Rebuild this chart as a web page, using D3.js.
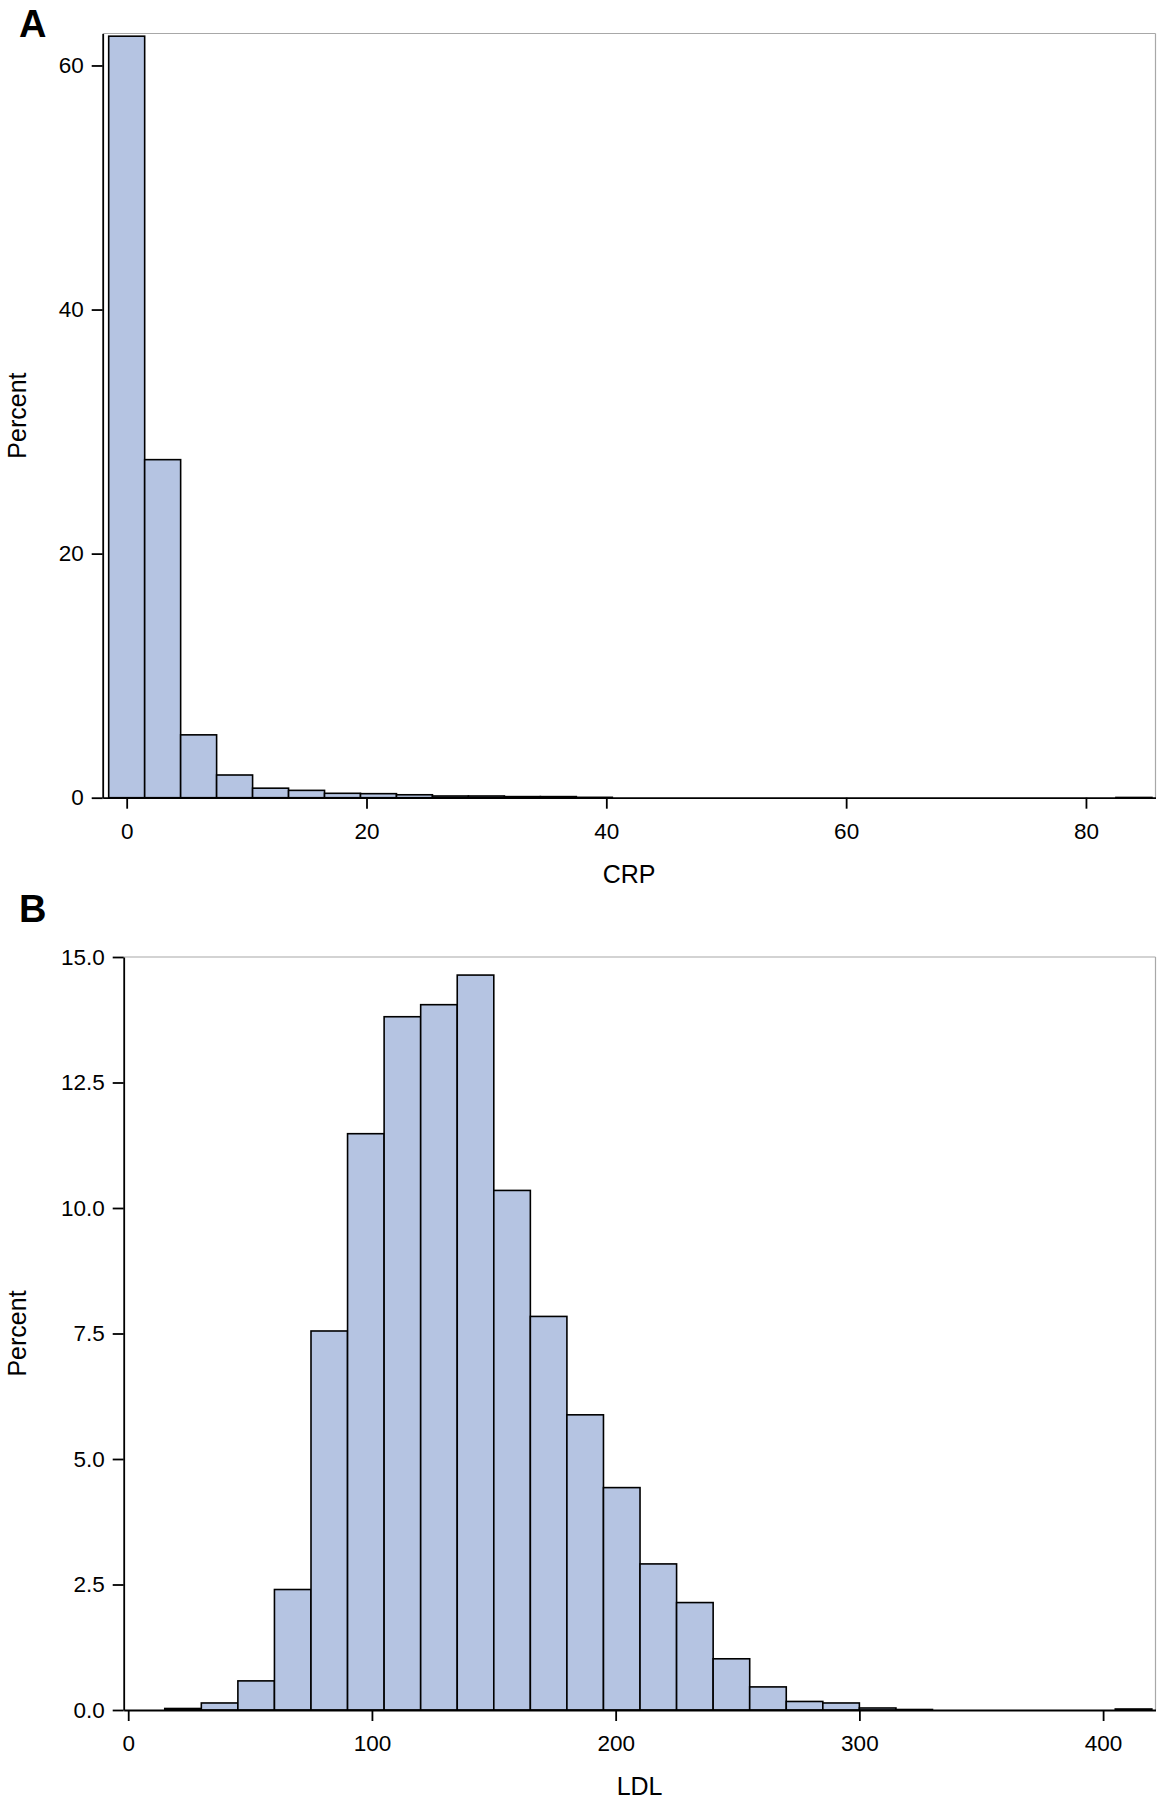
<!DOCTYPE html>
<html>
<head>
<meta charset="utf-8">
<script src="https://cdn.jsdelivr.net/npm/d3@7"></script>
<style>
  html, body { margin: 0; padding: 0; background: #fff; }
  svg { display: block; font-family: "Liberation Sans", Arial, Helvetica, sans-serif; }
</style>
</head>
<body>
<svg id="chart" width="1162" height="1800"></svg>
<script>
// ---- Data ----
const crpBinWidth = 3;
const crpMidpoints = [0, 3, 6, 9, 12, 15, 18, 21, 24, 27, 30, 33, 36, 39, 42, 45, 48, 51, 54, 57, 60, 63, 66, 69, 72, 75, 78, 81, 84];
const crpPercent   = [62.4, 27.7, 5.15, 1.86, 0.78, 0.6, 0.36, 0.33, 0.24, 0.14, 0.14, 0.09, 0.09, 0.03, 0, 0, 0, 0, 0, 0, 0, 0, 0, 0, 0, 0, 0, 0, 0.02];
const crpXTicks = [0, 20, 40, 60, 80];
const crpYTicks = [0, 20, 40, 60];

const ldlBinWidth = 15;
const ldlMidpoints = [22.5, 37.5, 52.5, 67.5, 82.5, 97.5, 112.5, 127.5, 142.5, 157.5, 172.5, 187.5, 202.5, 217.5, 232.5, 247.5, 262.5, 277.5, 292.5, 307.5, 322.5, 337.5, 352.5, 367.5, 382.5, 397.5, 412.5];
const ldlPercent   = [0.03, 0.14, 0.58, 2.4, 7.55, 11.48, 13.81, 14.05, 14.64, 10.35, 7.84, 5.88, 4.43, 2.91, 2.14, 1.02, 0.46, 0.17, 0.14, 0.04, 0.01, 0, 0, 0, 0, 0, 0.02];
const ldlXTicks = [0, 100, 200, 300, 400];
const ldlYTicks = [0, 2.5, 5, 7.5, 10, 12.5, 15];

// ---- Style ----
const barFill = "#b5c4e2";
const barStroke = "#000";
const frameColor = "#a8a8a8";
const tickFont = 22.5;
const labelFont = 25;

const svg = d3.select("#chart");

function panel(cfg) {
  const g = svg.append("g");
  const x = d3.scaleLinear().domain(cfg.xDomain).range([cfg.left, cfg.right]);
  const y = d3.scaleLinear().domain(cfg.yDomain).range([cfg.bottom, cfg.top]);

  // frame (top & right)
  g.append("line").attr("x1", cfg.left).attr("x2", cfg.right).attr("y1", cfg.top).attr("y2", cfg.top)
    .attr("stroke", frameColor).attr("stroke-width", 1.2);
  g.append("line").attr("x1", cfg.right).attr("x2", cfg.right).attr("y1", cfg.top).attr("y2", cfg.bottom)
    .attr("stroke", frameColor).attr("stroke-width", 1.2);

  // bars
  const data = cfg.mids.map((m, i) => ({ m, v: cfg.vals[i] })).filter(d => d.v > 0);
  g.append("g").selectAll("rect").data(data).join("rect")
    .attr("x", d => x(d.m - cfg.bw / 2))
    .attr("width", d => x(d.m + cfg.bw / 2) - x(d.m - cfg.bw / 2))
    .attr("y", d => y(d.v))
    .attr("height", d => y(0) - y(d.v))
    .attr("fill", barFill)
    .attr("stroke", barStroke)
    .attr("stroke-width", 1.6);

  // axes
  const xAxis = d3.axisBottom(x).tickValues(cfg.xTicks).tickSize(11).tickSizeOuter(0).tickPadding(14)
    .tickFormat(d3.format("d"));
  const gx = g.append("g").attr("transform", `translate(0,${cfg.bottom})`).call(xAxis);
  const yAxis = d3.axisLeft(y).tickValues(cfg.yTicks).tickSize(11).tickSizeOuter(0).tickPadding(8)
    .tickFormat(cfg.yFormat);
  const gy = g.append("g").attr("transform", `translate(${cfg.left},0)`).call(yAxis);

  [gx, gy].forEach(ax => {
    ax.select(".domain").attr("stroke", "#000").attr("stroke-width", 1.8);
    ax.selectAll(".tick line").attr("stroke", "#000").attr("stroke-width", 1.8);
    ax.selectAll(".tick text").attr("fill", "#000").style("font-size", tickFont + "px")
      .style("font-family", '"Liberation Sans", Arial, sans-serif');
  });

  // axis labels
  g.append("text").attr("x", (cfg.left + cfg.right) / 2).attr("y", cfg.xLabelY)
    .attr("text-anchor", "middle").style("font-size", labelFont + "px").text(cfg.xLabel);
  g.append("text").attr("transform", `translate(26,${(cfg.top + cfg.bottom) / 2}) rotate(-90)`)
    .attr("text-anchor", "middle").style("font-size", labelFont + "px").text(cfg.yLabel);

  // panel letter
  g.append("text").attr("x", 19).attr("y", cfg.letterY)
    .style("font-size", "38px").style("font-weight", "bold").text(cfg.letter);
}

panel({
  letter: "A", letterY: 37,
  left: 102.7, right: 1155.5, top: 33.5, bottom: 797.7,
  xDomain: [-2.0, 85.8], yDomain: [0, 62.62],
  mids: crpMidpoints, vals: crpPercent, bw: crpBinWidth,
  xTicks: crpXTicks, yTicks: crpYTicks, yFormat: d3.format("d"),
  xLabel: "CRP", yLabel: "Percent", xLabelY: 883
});

panel({
  letter: "B", letterY: 922,
  left: 123.7, right: 1155.5, top: 957, bottom: 1710,
  xDomain: [-1.85, 421.5], yDomain: [0, 15],
  mids: ldlMidpoints, vals: ldlPercent, bw: ldlBinWidth,
  xTicks: ldlXTicks, yTicks: ldlYTicks, yFormat: d3.format(".1f"),
  xLabel: "LDL", yLabel: "Percent", xLabelY: 1795
});
</script>
</body>
</html>
